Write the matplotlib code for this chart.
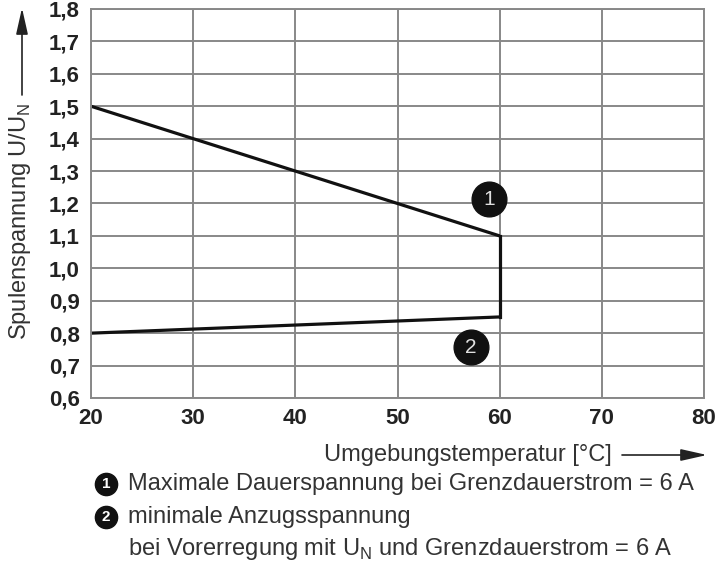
import matplotlib.pyplot as plt
import numpy as np

# curve data
temp_max = [20, 60]
volt_max = [1.5, 1.1]
temp_min = [20, 60]
volt_min = [0.8, 0.85]
temp_edge = [60, 60]
volt_edge = [1.1, 0.85]

xticks = [20, 30, 40, 50, 60, 70, 80]
yticks = [0.6, 0.7, 0.8, 0.9, 1.0, 1.1, 1.2, 1.3, 1.4, 1.5, 1.6, 1.7, 1.8]
ytick_labels = ["0,6", "0,7", "0,8", "0,9", "1,0", "1,1", "1,2", "1,3", "1,4", "1,5", "1,6", "1,7", "1,8"]

marker_x = [59, 57.2]
marker_y = [1.213, 0.757]
marker_labels = ["1", "2"]

notes = ["Maximale Dauerspannung bei Grenzdauerstrom = 6 A",
         "minimale Anzugsspannung",
         "bei Vorerregung mit U$_\\mathregular{N}$ und Grenzdauerstrom = 6 A"]

plt.rcParams['font.family'] = ['Liberation Sans', 'DejaVu Sans']

fig = plt.figure(figsize=(7.2, 5.65), dpi=100)
ax = fig.add_axes([0.1264, 0.2956, 0.8514, 0.6885])

ax.plot(temp_max, volt_max, color='#111111', lw=2.3, solid_capstyle='butt')
ax.plot(temp_min, volt_min, color='#111111', lw=2.3, solid_capstyle='butt')
ax.plot(temp_edge, volt_edge, color='#111111', lw=2.3, solid_capstyle='projecting')

for mx, my, ml in zip(marker_x, marker_y, marker_labels):
    ax.plot(mx, my, 'o', ms=25, color='#111111', clip_on=False)
    ax.text(mx, my, ml, color='#e0e0e0', ha='center', va='center', fontsize=15)

ax.set_xlim(20, 80)
ax.set_ylim(0.6, 1.8)
ax.set_xticks(xticks)
ax.set_yticks(yticks)
ax.set_yticklabels(ytick_labels)
ax.grid(True, color='#888888', lw=1.4)
ax.set_axisbelow(True)
for s in ax.spines.values():
    s.set_color('#888888')
    s.set_linewidth(1.4)
ax.tick_params(axis='x', length=0, pad=7)
ax.tick_params(axis='y', length=0, pad=8)
for lbl in ax.get_xticklabels() + ax.get_yticklabels():
    lbl.set_fontweight('bold')
    lbl.set_fontsize(16)
    lbl.set_color('#222222')

# y label with arrow (figure pixels, origin bottom-left)
fig.text(20 / 720, 1 - 221 / 565, "Spulenspannung U/U$_\\mathregular{N}$", rotation=90,
         ha='center', va='center', fontsize=17, color='#333333')
ax.annotate('', xy=(22, 557), xytext=(22, 470), xycoords='figure pixels',
            arrowprops=dict(arrowstyle='-|>,head_length=0.8,head_width=0.18',
                            color='#222222', lw=1.2, mutation_scale=20, shrinkA=0, shrinkB=0))

# x label with arrow
fig.text(612 / 720, 1 - 455 / 565, "Umgebungstemperatur [°C]", ha='right', va='center',
         fontsize=17, color='#333333')
ax.annotate('', xy=(707, 110), xytext=(622, 110), xycoords='figure pixels',
            arrowprops=dict(arrowstyle='-|>,head_length=0.8,head_width=0.18',
                            color='#222222', lw=1.2, mutation_scale=20, shrinkA=0, shrinkB=0))

# footnotes
note_y = [484, 517, 549]
for i, lab in enumerate(["1", "2"]):
    fy = 1 - note_y[i] / 565
    ax.plot(106 / 720, fy, 'o', ms=16, color='#111111', transform=fig.transFigure, clip_on=False)
    ax.text(106 / 720, fy, lab, color='white', ha='center', va='center', fontsize=11,
            fontweight='bold', transform=fig.transFigure)
for i, txt in enumerate(notes):
    fig.text(128 / 720, 1 - note_y[i] / 565, txt, ha='left', va='center',
             fontsize=17, color='#333333')

fig.savefig('out.png', dpi=100)
